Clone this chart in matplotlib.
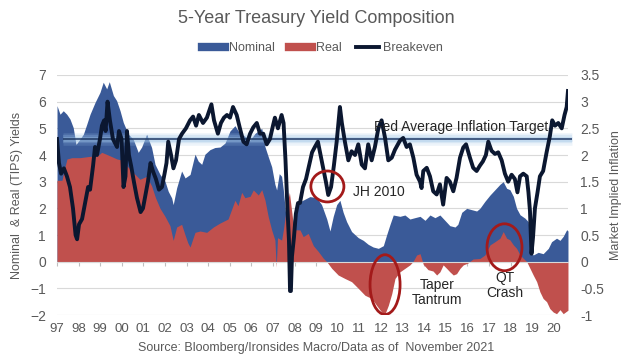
import matplotlib.pyplot as plt
from matplotlib.lines import Line2D
from matplotlib.patches import Ellipse

# ---- data (x = years after Jan 1997 on the chart axis) ----
nominal_t = [0.00, 0.14, 0.29, 0.45, 0.60, 0.75, 0.88, 1.06, 1.22, 1.38, 1.53, 1.76, 1.99, 2.14,
             2.30, 2.42, 2.61, 2.76, 2.92, 3.07, 3.30, 3.53, 3.76, 3.92, 4.15, 4.38, 4.54, 4.77,
             5.00, 5.15, 5.31, 5.38, 5.54, 5.77, 5.93, 6.16, 6.39, 6.54, 6.70, 6.85, 7.08, 7.31,
             7.55, 7.78, 8.01, 8.24, 8.47, 8.70, 8.94, 9.17, 9.48, 9.63, 9.78, 9.94, 10.09, 10.17,
             10.29, 10.40, 10.48, 10.63, 10.75, 10.87, 11.10, 11.40, 11.71, 12.02, 12.25, 12.49,
             12.64, 12.79, 12.95, 13.10, 13.25, 13.41, 13.64, 13.95, 14.18, 14.41, 14.64, 14.88,
             15.11, 15.26, 15.42, 15.57, 15.88, 16.11, 16.34, 16.57, 16.81, 17.04, 17.27, 17.50,
             17.73, 17.96, 18.19, 18.43, 18.56, 18.74, 18.97, 19.20, 19.43, 19.58, 19.81, 20.05,
             20.28, 20.51, 20.66, 20.82, 20.97, 21.13, 21.28, 21.44, 21.67, 21.82, 21.94, 22.05,
             22.28, 22.51, 22.75, 22.90, 23.13, 23.29, 23.44, 23.60, 23.66]
nominal = [5.85, 5.53, 5.66, 5.53, 5.35, 5.03, 4.40, 4.59, 4.78, 5.16, 5.53, 5.97, 6.35, 6.73,
           6.48, 6.75, 6.23, 6.04, 5.66, 5.22, 4.78, 4.59, 4.10, 4.30, 4.78, 4.28, 3.65, 3.27,
           3.02, 2.64, 2.39, 2.14, 2.77, 3.40, 3.14, 3.27, 4.03, 3.77, 3.65, 4.03, 4.20, 4.28,
           4.30, 4.45, 4.90, 5.10, 4.80, 4.70, 4.56, 4.81, 5.00, 4.31, 3.94, 3.56, 2.90, 2.69,
           3.30, 3.20, 2.69, 1.44, 0.90, 1.30, 2.19, 2.31, 2.44, 2.40, 2.14, 1.60,
           1.15, 1.70, 2.14, 2.30, 1.85, 1.50, 1.13, 0.90, 0.80, 0.65, 0.55, 0.50,
           0.60, 1.00, 1.40, 1.75, 1.70, 1.75, 1.60, 1.65, 1.70, 1.55, 1.75, 1.65,
           1.75, 1.55, 1.35, 1.30, 1.40, 1.85, 2.00, 1.95, 1.90, 2.00, 2.26, 2.50,
           2.70, 2.90, 3.00, 2.75, 2.70, 2.45, 2.00, 1.76, 1.63, 1.50, 0.40, 0.25,
           0.35, 0.30, 0.50, 0.75, 0.88, 0.80, 0.95, 1.20, 1.15]

real_t = [0.00, 0.23, 0.32, 0.46, 0.69, 1.06, 1.53, 1.85, 2.07, 2.22, 2.45, 2.78, 3.06, 3.23,
          3.53, 3.84, 4.15, 4.38, 4.56, 4.77, 5.00, 5.23, 5.38, 5.54, 5.77, 5.93, 6.06, 6.16,
          6.39, 6.62, 6.93, 7.24, 7.55, 7.92, 8.24, 8.38, 8.55, 8.70, 8.94, 9.09, 9.32, 9.48,
          9.63, 9.78, 9.94, 10.09, 10.15, 10.21, 10.40, 10.48, 10.63, 10.76, 10.88, 10.97,
          11.25, 11.40, 11.63, 11.87, 12.10, 12.33, 12.49, 12.72, 13.02, 13.33, 13.64, 13.95,
          14.26, 14.57, 14.80, 15.03, 15.19, 15.34, 15.50, 15.65, 15.88, 16.11, 16.34, 16.48,
          16.65, 16.81, 16.96, 17.18, 17.41, 17.58, 17.73, 17.88, 18.04, 18.19, 18.35, 18.50,
          18.66, 18.81, 19.03, 19.26, 19.58, 19.81, 20.05, 20.28, 20.51, 20.66, 20.82, 20.97,
          21.13, 21.28, 21.44, 21.75, 21.90, 22.05, 22.21, 22.36, 22.51, 22.67, 22.82, 22.98,
          23.13, 23.29, 23.44, 23.66]
real = [3.05, 3.05, 3.40, 3.85, 3.90, 3.90, 3.95, 3.95, 4.10, 4.05, 3.97, 3.85, 3.80, 3.60,
        3.34, 3.09, 3.20, 2.84, 2.40, 2.00, 1.70, 1.35, 0.80, 1.30, 1.40, 1.00, 0.70, 0.55,
        1.10, 1.15, 1.10, 1.30, 1.45, 1.60, 2.30, 2.10, 2.60, 2.40, 2.45, 2.69, 2.50, 2.70,
        2.31, 1.69, 1.19, 0.81, -0.20, 0.90, 0.81, 1.19, 2.06, 2.60, 1.80, 1.20,
        1.19, 0.94, 1.06, 0.60, 0.38, 0.13, 0.00, -0.25, -0.50, -0.63, -0.75, -1.00,
        -1.26, -1.38, -1.64, -1.89, -1.95, -1.64, -1.20, -0.63, -0.38, -0.25, -0.12, 0.00,
        0.25, 0.30, -0.10, -0.30, -0.35, -0.50, -0.38, -0.12, -0.25, -0.38, -0.50, -0.45,
        -0.25, -0.12, -0.05, 0.10, 0.12, 0.25, 0.63, 0.75, 0.88, 1.13, 0.88, 0.82,
        0.63, 0.50, 0.25, 0.00, -0.25, -0.50, -0.75, -1.13, -1.38, -1.50, -1.76, -1.89,
        -1.95, -1.80, -1.95, -1.82]

breakeven_t = [0.00, 0.09, 0.19, 0.32, 0.46, 0.60, 0.74, 0.86, 0.93, 1.02, 1.16, 1.30, 1.44,
               1.53, 1.67, 1.76, 1.85, 1.99, 2.08, 2.18, 2.25, 2.34, 2.45, 2.59, 2.78, 2.87,
               2.99, 3.08, 3.17, 3.24, 3.33, 3.43, 3.56, 3.70, 3.87, 3.98, 4.12, 4.21, 4.33,
               4.44, 4.58, 4.72, 4.86, 4.98, 5.07, 5.15, 5.28, 5.39, 5.51, 5.65, 5.79, 5.97,
               6.16, 6.30, 6.44, 6.57, 6.76, 6.94, 7.15, 7.27, 7.45, 7.59, 7.73, 7.87, 8.01,
               8.15, 8.32, 8.47, 8.63, 8.78, 8.94, 9.09, 9.25, 9.40, 9.55, 9.71, 9.86, 10.00,
               10.09, 10.23, 10.40, 10.49, 10.58, 10.67, 10.74, 10.79, 10.83, 10.88, 10.97,
               11.06, 11.16, 11.25, 11.39, 11.53, 11.67, 11.81, 11.94, 12.08, 12.18, 12.31,
               12.45, 12.56, 12.69, 12.82, 12.95, 13.10, 13.19, 13.33, 13.49, 13.64, 13.80,
               13.95, 14.11, 14.26, 14.41, 14.57, 14.72, 14.88, 15.03, 15.19, 15.34, 15.50,
               15.65, 15.88, 16.03, 16.19, 16.34, 16.50, 16.65, 16.81, 16.88, 16.96, 17.12,
               17.27, 17.42, 17.58, 17.73, 17.88, 18.04, 18.19, 18.35, 18.50, 18.66, 18.81,
               18.94, 19.12, 19.27, 19.43, 19.58, 19.72, 19.86, 19.97, 20.12, 20.28, 20.43,
               20.59, 20.74, 20.89, 21.05, 21.20, 21.32, 21.44, 21.59, 21.75, 21.83, 21.90,
               21.97, 22.04, 22.13, 22.25, 22.36, 22.51, 22.67, 22.82, 22.93, 23.06, 23.21,
               23.37, 23.50, 23.60, 23.66]
breakeven = [2.30, 1.85, 1.65, 1.75, 1.60, 1.40, 1.00, 0.50, 0.42, 0.70, 0.80, 1.10, 1.40,
             1.35, 1.80, 2.15, 2.00, 2.30, 2.55, 2.65, 2.45, 3.00, 2.65, 2.30, 2.15, 2.45,
             2.30, 1.40, 1.60, 2.45, 2.00, 1.80, 1.50, 1.20, 0.93, 1.00, 1.30, 1.50, 1.85,
             1.70, 1.55, 1.35, 1.40, 1.65, 1.85, 2.25, 2.00, 1.75, 1.90, 2.30, 2.40, 2.50,
             2.65, 2.72, 2.55, 2.75, 2.60, 2.70, 2.95, 2.65, 2.40, 2.60, 2.70, 2.75, 2.70,
             2.90, 2.75, 2.50, 2.25, 2.20, 2.40, 2.52, 2.60, 2.40, 2.40, 2.20, 2.30, 2.55,
             2.70, 2.50, 2.75, 2.60, 1.90, 1.00, 0.40, -0.55, -0.55, 0.10, 0.45,
             0.90, 1.10, 1.10, 1.40, 1.55, 1.80, 2.05, 2.15, 2.25, 2.05, 1.80,
             1.50, 1.25, 1.40, 1.80, 2.25, 2.90, 2.60, 2.25, 1.90, 2.07, 2.00,
             2.20, 1.82, 1.75, 2.20, 1.90, 2.15, 2.50, 2.65, 2.32, 1.90, 1.95,
             2.10, 2.27, 2.32, 2.15, 2.20, 1.95, 1.63, 1.50, 1.38, 1.70, 1.76,
             1.60, 1.32, 1.26, 1.45, 1.07, 1.57, 1.50, 1.32, 1.57, 1.95, 2.14,
             2.20, 1.95, 1.76, 1.70, 1.80, 1.88, 2.00, 2.25, 2.08, 2.02, 2.05,
             1.90, 1.65, 1.50, 1.63, 1.55, 1.30, 1.60, 1.65, 1.60, 1.30, 0.95,
             0.15, 0.45, 1.00, 1.30, 1.60, 1.70, 2.05, 2.35, 2.65, 2.55, 2.60,
             2.50, 2.75, 2.90, 3.20]

year_labels = ['97', '98', '99', '00', '01', '02', '03', '04', '05', '06', '07', '08',
               '09', '10', '11', '12', '13', '14', '15', '16', '17', '18', '19', '20']
fed_target = 2.3

# annotations: (text, x, y on right axis)
notes = [('JH 2010', 13.7, 1.31), ('Taper\nTantrum', 17.6, -0.58), ('QT\nCrash', 20.74, -0.45)]
# circled episodes: (x centre, y centre on right axis, width, height)
circles = [(12.52, 1.41, 1.53, 0.58), (15.19, -0.43, 1.39, 1.12), (20.72, 0.27, 1.62, 0.88)]

# ---- style ----
plt.rcParams['font.family'] = ['Liberation Sans', 'DejaVu Sans']
grey = '#595959'
blue = '#3A5A98'
red = '#C0504D'
navy = '#0B1730'
fs = 9

fig = plt.figure(figsize=(6.32, 3.63), dpi=100)
ax = fig.add_axes([0.0902, 0.1322, 0.8085, 0.6612])
ax2 = ax.twinx()

# areas on the left axis
ax.fill_between(nominal_t, 0, nominal, color=blue, lw=0, zorder=2)
ax.fill_between(real_t, 0, real, color=red, lw=0, zorder=3)

ax.set_xlim(0, 23.66)
ax.set_ylim(-2, 7)
ax.set_yticks(range(-2, 8))
ax.grid(axis='y', color='#D9D9D9', lw=0.8, zorder=0)
ax.set_axisbelow(True)
for s in ['top', 'left', 'right']:
    ax.spines[s].set_visible(False)
ax.spines['bottom'].set_position(('data', 0))
ax.spines['bottom'].set_color('#D9D9D9')
ax.spines['bottom'].set_zorder(4)
ax.set_xticks(range(len(year_labels)))
ax.tick_params(axis='x', length=3, color='#BFBFBF', labelbottom=False)
ax.tick_params(axis='y', length=0, labelsize=10, labelcolor=grey, pad=8)
ax.set_ylabel('Nominal  & Real (TIPS) Yields', color=grey, fontsize=fs, labelpad=5)

# year labels sit at the bottom of the plot
sec = ax.secondary_xaxis(0.0)
sec.set_xticks(range(len(year_labels)))
sec.set_xticklabels(year_labels)
sec.tick_params(length=0, labelsize=9.5, labelcolor=grey, pad=6)
sec.spines['bottom'].set_visible(False)

# right axis: breakeven and target
ax2.set_ylim(-1, 3.5)
ax2.set_yticks([-1, -0.5, 0, 0.5, 1, 1.5, 2, 2.5, 3, 3.5])
ax2.set_yticklabels(['-1', '-0.5', '0', '0.5', '1', '1.5', '2', '2.5', '3', '3.5'])
ax2.tick_params(axis='y', length=0, labelsize=10, labelcolor=grey, pad=9)
for s in ax2.spines.values():
    s.set_visible(False)
ax2.set_ylabel('Market Implied Inflation', color=grey, fontsize=fs, labelpad=4)

# glow around the target line
for w, a in [(9, 0.18), (6, 0.25), (3.5, 0.35)]:
    ax2.hlines(fed_target, 0.28, 23.84, color='#9DC3E6', lw=w, alpha=a, clip_on=False, zorder=3)
ax2.hlines(fed_target, 0.28, 23.84, color='#1F3864', lw=1.1, clip_on=False, zorder=4)
ax2.text(18.7, 2.53, 'Fed Average Inflation Target', ha='center', va='center',
         fontsize=10, color='#262626', zorder=6)

ax2.plot(breakeven_t, breakeven, color=navy, lw=2.8, solid_joinstyle='round', zorder=5)

for cx, cy, w, h in circles:
    ax2.add_patch(Ellipse((cx, cy), w, h, fill=False, ec='#A31A1A', lw=2, zorder=7))
for txt, x, y in notes:
    ax2.text(x, y, txt, ha='center' if '\n' in txt else 'left', va='center', fontsize=10,
             color='#262626', linespacing=1.1, zorder=7)

# title, legend, source
fig.text(0.5, 0.95, '5-Year Treasury Yield Composition', ha='center', va='center',
         fontsize=13, color=grey)
handles = [Line2D([], [], color=blue, lw=6), Line2D([], [], color=red, lw=6),
           Line2D([], [], color=navy, lw=2.8)]
fig.legend(handles, ['Nominal', 'Real', 'Breakeven'], loc='center', bbox_to_anchor=(0.51, 0.868),
           ncol=3, frameon=False, fontsize=fs, labelcolor=grey, handlelength=1.9,
           handletextpad=0.3, columnspacing=1.1)
fig.text(0.5, 0.04, 'Source: Bloomberg/Ironsides Macro/Data as of  November 2021',
         ha='center', va='center', fontsize=fs, color=grey)

fig.savefig('out.png', dpi=100)
